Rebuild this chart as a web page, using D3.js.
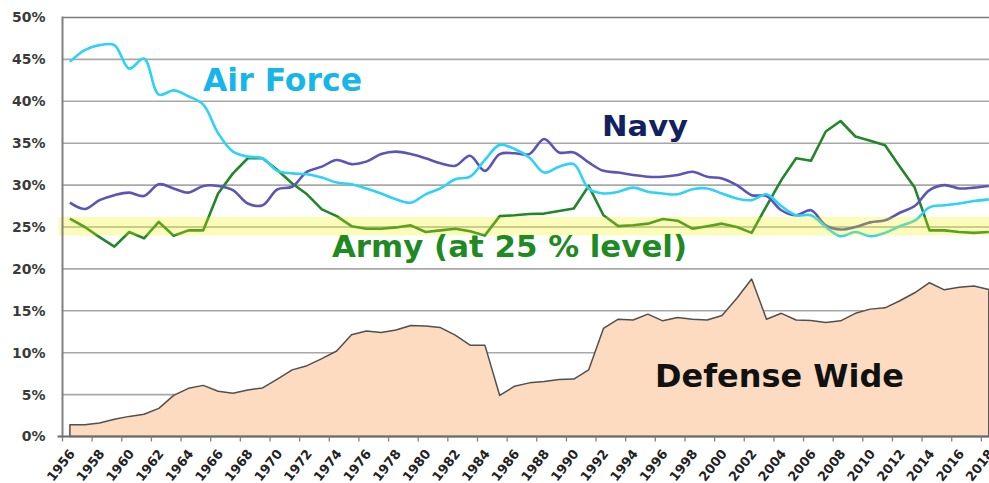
<!DOCTYPE html>
<html>
<head>
    <meta charset="utf-8">
    <title>Budget share by service</title>
    <script src="https://cdn.jsdelivr.net/npm/d3@7"></script>
    <style>
        body { margin: 0; background: #fff; }
        svg { display: block; }
    </style>
</head>
<body>
<script>
    // years on the category axis
    var years = d3.range(1956, 2019);

    // share of budget, percent
    var airForce = [44.7, 46.1, 46.7, 46.7, 43.9, 45.1, 40.8, 41.3, 40.6, 39.6,
        36.2, 34.0, 33.4, 33.2, 31.7, 31.4, 31.3, 30.9, 30.3, 30.1,
        29.6, 29.0, 28.3, 27.9, 28.9, 29.6, 30.7, 31.0, 33.0, 34.8,
        34.3, 33.3, 31.5, 32.2, 32.5, 29.6, 29.0, 29.2, 29.7, 29.2,
        29.0, 28.9, 29.5, 29.6, 29.0, 28.4, 28.2, 28.9, 27.5, 26.4,
        26.4, 25.0, 23.9, 24.4, 23.9, 24.3, 25.1, 25.75, 27.35, 27.6,
        27.8, 28.1, 28.3];

    var navy = [27.9, 27.15, 28.2, 28.8, 29.1, 28.7, 30.1, 29.6, 29.1, 29.9,
        29.9, 29.4, 27.8, 27.6, 29.5, 29.8, 31.6, 32.2, 33.0, 32.5,
        32.8, 33.7, 34.0, 33.7, 33.2, 32.6, 32.3, 33.5, 31.7, 33.7,
        33.8, 33.7, 35.5, 33.9, 33.9, 32.7, 31.7, 31.5, 31.2, 31.0,
        31.0, 31.2, 31.6, 31.0, 30.8, 30.0, 28.8, 28.7, 27.0, 26.4,
        27.0, 25.2, 24.7, 25.0, 25.55, 25.8, 26.7, 27.5, 29.4, 30.0,
        29.6, 29.7, 29.9];

    var army = [26.0, 25.0, 23.8, 22.65, 24.4, 23.65, 25.6, 23.95, 24.6, 24.6,
        29.0, 31.4, 33.2, 33.2, 31.8, 30.2, 28.9, 27.1, 26.3, 25.1,
        24.8, 24.8, 24.95, 25.2, 24.4, 24.6, 24.8, 24.5, 24.0, 26.3,
        26.4, 26.55, 26.6, 26.9, 27.2, 29.9, 26.4, 25.1, 25.2, 25.4,
        25.95, 25.75, 24.8, 25.1, 25.4, 25.0, 24.3, 27.5, 30.6, 33.2,
        32.9, 36.4, 37.65, 35.8, 35.3, 34.75, 32.2, 29.7, 24.6, 24.6,
        24.4, 24.3, 24.4];

    var defenseWide = [1.4, 1.4, 1.6, 2.05, 2.4, 2.65, 3.35, 4.9, 5.75, 6.1,
        5.4, 5.15, 5.55, 5.8, 6.85, 7.95, 8.45, 9.3, 10.2, 12.15,
        12.6, 12.4, 12.7, 13.25, 13.2, 13.0, 12.1, 10.9, 10.9, 4.9,
        6.0, 6.4, 6.55, 6.8, 6.85, 7.95, 12.9, 14.0, 13.9, 14.6,
        13.8, 14.2, 14.0, 13.9, 14.45, 16.5, 18.8, 14.0, 14.7, 13.9,
        13.85, 13.6, 13.8, 14.7, 15.2, 15.35, 16.2, 17.15, 18.35, 17.5,
        17.8, 17.95, 17.55];

    var yTicks = [0, 5, 10, 15, 20, 25, 30, 35, 40, 45, 50];
    var xLabelYears = years.filter(function (d) { return (d - 1956) % 2 === 0; });

    // highlighted band around the 25 % level
    var bandRange = [24.0, 26.2];

    var width = 989,
        height = 483;

    var svg = d3.select('body')
        .append('svg')
        .attr('width', width)
        .attr('height', height);

    var plotLeft = 62.5,
        plotRight = 996.2,
        plotTop = 17.5,
        plotBottom = 436.5;

    var x = d3.scaleBand()
        .domain(years)
        .range([plotLeft, plotRight])
        .padding(0);

    var cx = function (yr) { return x(yr) + x.bandwidth() / 2; };

    var y = d3.scaleLinear()
        .domain([0, 50])
        .range([plotBottom, plotTop]);

    // horizontal gridlines
    svg.append('g')
        .selectAll('line')
        .data(yTicks.slice(1))
        .enter()
        .append('line')
        .attr('x1', plotLeft)
        .attr('x2', width)
        .attr('y1', function (d) { return y(d); })
        .attr('y2', function (d) { return y(d); })
        .attr('stroke', function (d) { return d === 50 ? '#7a7a7a' : '#a8a8a8'; })
        .attr('stroke-width', 1.6);

    // y axis labels
    var yAxis = d3.axisLeft(y)
        .tickValues(yTicks)
        .tickSize(0)
        .tickPadding(17)
        .tickFormat(function (d) { return d + '%'; });

    svg.append('g')
        .attr('transform', 'translate(' + plotLeft + ',0)')
        .call(yAxis)
        .call(function (g) { g.select('.domain').remove(); })
        .selectAll('text')
        .attr('font-family', 'DejaVu Sans')
        .attr('font-weight', 'bold')
        .attr('font-size', 14)
        .attr('fill', '#3a3a3a');

    // defense wide area
    var area = d3.area()
        .x(function (d, i) { return cx(years[i]); })
        .y0(y(0))
        .y1(function (d) { return y(d); });

    svg.append('path')
        .datum(defenseWide)
        .attr('d', function (d) { return area(d) + 'Z'; })
        .attr('fill', '#fddbc0')
        .attr('stroke', '#505050')
        .attr('stroke-width', 1.5)
        .attr('stroke-linejoin', 'round');

    // service lines
    var smooth = d3.line()
        .x(function (d, i) { return cx(years[i]); })
        .y(function (d) { return y(d); })
        .curve(d3.curveCatmullRom.alpha(0.5));

    var straight = d3.line()
        .x(function (d, i) { return cx(years[i]); })
        .y(function (d) { return y(d); });

    svg.append('path')
        .datum(army)
        .attr('d', straight)
        .attr('fill', 'none')
        .attr('stroke', '#23862a')
        .attr('stroke-width', 2.6)
        .attr('stroke-linejoin', 'round');

    svg.append('path')
        .datum(navy)
        .attr('d', smooth)
        .attr('fill', 'none')
        .attr('stroke', '#5a55b6')
        .attr('stroke-width', 2.6);

    svg.append('path')
        .datum(airForce)
        .attr('d', smooth)
        .attr('fill', 'none')
        .attr('stroke', '#2dd2f6')
        .attr('stroke-width', 2.6);

    // translucent yellow highlight on top of the lines
    svg.append('rect')
        .attr('x', plotLeft - 4)
        .attr('y', y(bandRange[1]))
        .attr('width', width - plotLeft + 4)
        .attr('height', y(bandRange[0]) - y(bandRange[1]))
        .attr('fill', '#f0f000')
        .attr('opacity', 0.27);

    // axis lines
    svg.append('line')
        .attr('x1', plotLeft).attr('x2', plotLeft)
        .attr('y1', plotTop - 1).attr('y2', plotBottom + 1)
        .attr('stroke', '#808080')
        .attr('stroke-width', 2);

    svg.append('line')
        .attr('x1', plotLeft - 5).attr('x2', width)
        .attr('y1', plotBottom).attr('y2', plotBottom)
        .attr('stroke', '#6a6a6a')
        .attr('stroke-width', 2);

    // tick marks between every second category
    svg.append('g')
        .selectAll('line')
        .data(xLabelYears)
        .enter()
        .append('line')
        .attr('x1', function (d) { return x(d); })
        .attr('x2', function (d) { return x(d); })
        .attr('y1', plotBottom)
        .attr('y2', plotBottom + 5)
        .attr('stroke', '#808080')
        .attr('stroke-width', 1.3);

    // rotated year labels
    svg.append('g')
        .selectAll('text')
        .data(xLabelYears)
        .enter()
        .append('text')
        .attr('transform', function (d) {
            return 'translate(' + (cx(d) + 2) + ',' + 451 + ') rotate(-52)';
        })
        .attr('text-anchor', 'end')
        .attr('dy', '0.35em')
        .attr('font-family', 'DejaVu Sans')
        .attr('font-weight', 'bold')
        .attr('font-size', 13)
        .attr('fill', '#222')
        .text(function (d) { return d; });

    // series annotations
    var notes = [
        { text: 'Air Force', x: 203, y: 91, size: 32, len: 159, color: '#16b6ea' },
        { text: 'Navy', x: 602, y: 135.5, size: 28, len: 86, color: '#122160' },
        { text: 'Army (at 25 % level)', x: 332, y: 257, size: 30.5, len: 355, color: '#1f8a22' },
        { text: 'Defense Wide', x: 655, y: 387, size: 32, len: 249, color: '#111' }
    ];

    svg.append('g')
        .selectAll('text')
        .data(notes)
        .enter()
        .append('text')
        .attr('x', function (d) { return d.x; })
        .attr('y', function (d) { return d.y; })
        .attr('textLength', function (d) { return d.len; })
        .attr('lengthAdjust', 'spacingAndGlyphs')
        .attr('font-family', 'DejaVu Sans')
        .attr('font-weight', 'bold')
        .attr('font-size', function (d) { return d.size; })
        .attr('fill', function (d) { return d.color; })
        .text(function (d) { return d.text; });
</script>
</body>
</html>
